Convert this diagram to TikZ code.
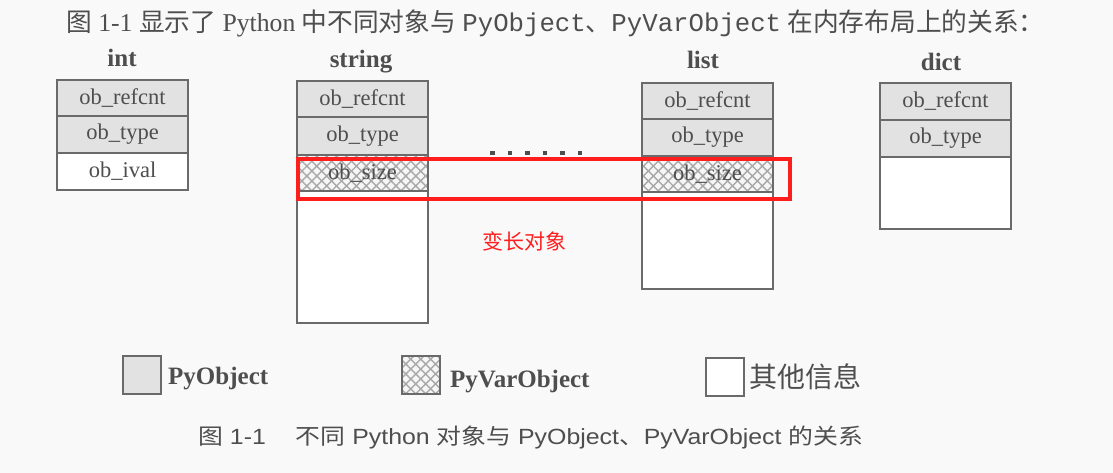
\documentclass[tikz,border=0pt]{standalone}
\usepackage{fontspec}
\setmainfont{Liberation Serif}
\setsansfont{Liberation Sans}
\setmonofont{Liberation Mono}
\newfontfamily\cjk{Noto Sans CJK SC}
\usetikzlibrary{patterns.meta}
\definecolor{pagebg}{HTML}{F9F9F9}
\definecolor{linec}{HTML}{6A6A6A}
\definecolor{txt}{HTML}{4E4E4E}
\definecolor{cellgray}{HTML}{E2E2E2}
\definecolor{hatchc}{HTML}{A8A8A8}
\definecolor{hlred}{HTML}{FF1E1E}
\tikzset{
  cell/.style={draw=linec, line width=1.6pt, inner sep=0pt, outer sep=0pt,
    minimum width=131pt, anchor=north west, text=txt,
    font=\fontsize{22.5}{22.5}\selectfont},
  hatchfill/.style={preaction={fill=white!93!gray},
    preaction={pattern={Lines[angle=45,distance=7pt,line width=1.4pt]}, pattern color=hatchc},
    preaction={pattern={Lines[angle=-45,distance=7pt,line width=1.4pt]}, pattern color=hatchc}},
  pyo/.style={cell, fill=cellgray},
  pyv/.style={cell, hatchfill},
  oth/.style={cell, fill=white},
  title/.style={text=txt, font=\fontsize{25}{25}\selectfont\bfseries, inner sep=0pt, anchor=base},
  legbox/.style={draw=linec, line width=1.6pt, inner sep=0pt, outer sep=0pt,
    minimum width=38pt, minimum height=38pt, anchor=north west},
  legtxt/.style={text=txt, font=\fontsize{25}{25}\selectfont\bfseries, inner sep=0pt, anchor=base west},
}
\begin{document}
\begin{tikzpicture}[x=1pt,y=-1pt]
\fill[pagebg] (0,0) rectangle (1113,473);
\useasboundingbox (0,0) rectangle (1113,473);

% top caption
\node[text=txt, font=\fontsize{25.7}{25.7}\selectfont, inner sep=0pt, anchor=base west] (topcap) at (66,32)
  {{\cjk 图} 1-1 {\cjk 显示了} Python {\cjk 中不同对象与} \texttt{PyObject}{\cjk 、}\texttt{PyVarObject} {\cjk 在内存布局上的关系：}};

% int
\node[title] (tint) at (122,67) {int};
\node[pyo, minimum height=36pt] (i1) at (57,80) {ob\_refcnt};
\node[pyo, minimum height=37pt] (i2) at (57,116) {ob\_type};
\node[oth, minimum height=37pt] (i3) at (57,153) {ob\_ival};

% string
\node[title] (tstr) at (361,68) {string};
\node[pyo, minimum height=36pt] (s1) at (297,81) {ob\_refcnt};
\node[pyo, minimum height=38pt] (s2) at (297,117) {ob\_type};
\node[pyv, minimum height=36pt] (s3) at (297,155) {ob\_size};
\node[oth, minimum height=132pt] (s4) at (297,191) {};

% dots
\draw[txt, line width=4.5pt, dash pattern=on 4.5pt off 13pt] (490,153) -- (585,153);

% list
\node[title] (tlist) at (703,69) {list};
\node[pyo, minimum height=36pt] (l1) at (642,83) {ob\_refcnt};
\node[pyo, minimum height=37pt] (l2) at (642,119) {ob\_type};
\node[pyv, minimum height=36pt] (l3) at (642,156) {ob\_size};
\node[oth, minimum height=97pt] (l4) at (642,192) {};

% dict
\node[title] (tdict) at (941,71) {dict};
\node[pyo, minimum height=37pt] (d1) at (880,83) {ob\_refcnt};
\node[pyo, minimum height=37pt] (d2) at (880,120) {ob\_type};
\node[oth, minimum height=72pt] (d3) at (880,157) {};

% highlight
\draw[hlred, line width=3.2pt] (298,159) rectangle (790,199);
\node[text=hlred, font=\cjk\fontsize{21}{21}\selectfont, inner sep=0pt] (var) at (524,241) {变长对象};

% legend
\node[legbox, fill=cellgray] (lg1) at (123,356) {};
\node[legtxt] (lt1) at (168,384) {PyObject};
\node[legbox, hatchfill] (lg2) at (402,356) {};
\node[legtxt] (lt2) at (450,387) {PyVarObject};
\node[legbox, fill=white] (lg3) at (706,358) {};
\node[text=txt, font=\cjk\fontsize{28}{28}\selectfont, inner sep=0pt, anchor=west] (lt3) at (749,377) {其他信息};

% bottom caption
\node[text=txt, font=\sffamily\fontsize{22}{22}\selectfont, inner sep=0pt, anchor=base west] (botcap) at (198,444)
  {\scalebox{1.13}[1]{{\cjk 图} 1-1\hspace{1.2em}{\cjk 不同} Python {\cjk 对象与} PyObject{\cjk 、}PyVarObject {\cjk 的关系}}};
\end{tikzpicture}
\end{document}
